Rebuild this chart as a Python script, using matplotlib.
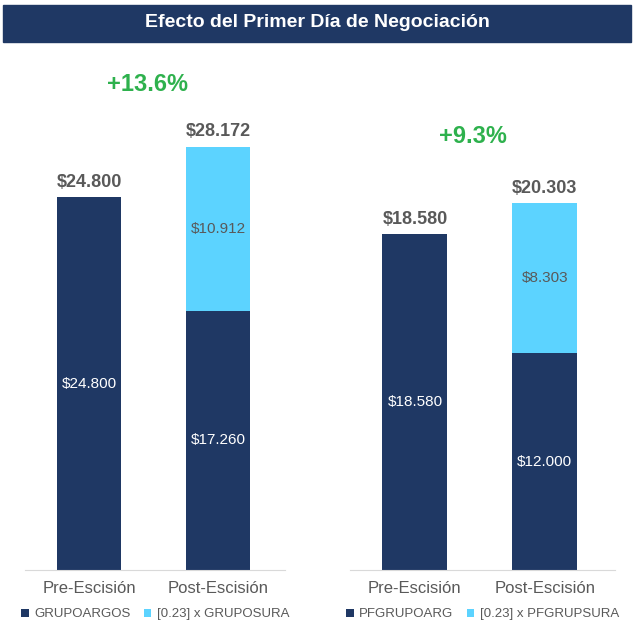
import matplotlib.pyplot as plt
from matplotlib.patches import Rectangle

categories = ['Pre-Escisión', 'Post-Escisión']

left_base = [24.800, 17.260]
left_top = [0, 10.912]
left_names = ['GRUPOARGOS', '[0.23] x GRUPOSURA']
left_change = '+13.6%'

right_base = [18.580, 12.000]
right_top = [0, 8.303]
right_names = ['PFGRUPOARG', '[0.23] x PFGRUPSURA']
right_change = '+9.3%'

navy = '#1F3864'
light = '#5CD3FF'
grey = '#595959'
green = '#2EB14D'
plt.rcParams['font.family'] = 'Liberation Sans'


def fmt(v):
    return '$' + ('%.3f' % v)


def panel(ax, base, top, names, change, ymax, change_y, xmax):
    x = range(len(categories))
    ax.bar(x, base, width=0.5, color=navy, label=names[0])
    ax.bar(x, top, bottom=base, width=0.5, color=light, label=names[1])
    for i in x:
        ax.text(i, base[i] / 2, fmt(base[i]), ha='center', va='center', color='white', fontsize=11)
        if top[i] > 0:
            ax.text(i, base[i] + top[i] / 2, fmt(top[i]), ha='center', va='center', color=grey, fontsize=11)
        total = base[i] + top[i]
        ax.text(i, total + ymax * 0.012, fmt(total), ha='center', va='bottom', color=grey,
                fontsize=13, fontweight='bold')
    ax.text(0.45, change_y, change, ha='center', va='center', color=green, fontsize=17, fontweight='bold')
    ax.set_xlim(-0.5, xmax)
    ax.set_ylim(0, ymax)
    ax.set_xticks(list(x))
    ax.set_xticklabels(categories, fontsize=12, color=grey)
    ax.tick_params(length=0, pad=8)
    ax.set_yticks([])
    for s in ['top', 'right', 'left']:
        ax.spines[s].set_visible(False)
    ax.spines['bottom'].set_color('#D9D9D9')
    ax.legend(ncol=2, frameon=False, handlelength=0.6, handleheight=0.6, handletextpad=0.4,
              columnspacing=1.0, fontsize=9.5, loc='upper center', bbox_to_anchor=(0.5, -0.065),
              labelcolor=grey, borderaxespad=0)


fig = plt.figure(figsize=(6.34, 6.33), dpi=100)
fig.patches.append(Rectangle((0.0047, 0.9336), 0.9905, 0.0585, transform=fig.transFigure,
                             color=navy, zorder=0))
fig.text(0.5, 0.9637, 'Efecto del Primer Día de Negociación', ha='center', va='center',
         color='white', fontsize=14, fontweight='bold')

ax1 = fig.add_axes([0.039, 0.0995, 0.411, 0.805])
panel(ax1, left_base, left_top, left_names, left_change, 33.9, 32.3, 1.52)
ax2 = fig.add_axes([0.552, 0.0995, 0.418, 0.805])
panel(ax2, right_base, right_top, right_names, right_change, 28.2, 24.0, 1.54)

fig.savefig('out.png', dpi=100)
